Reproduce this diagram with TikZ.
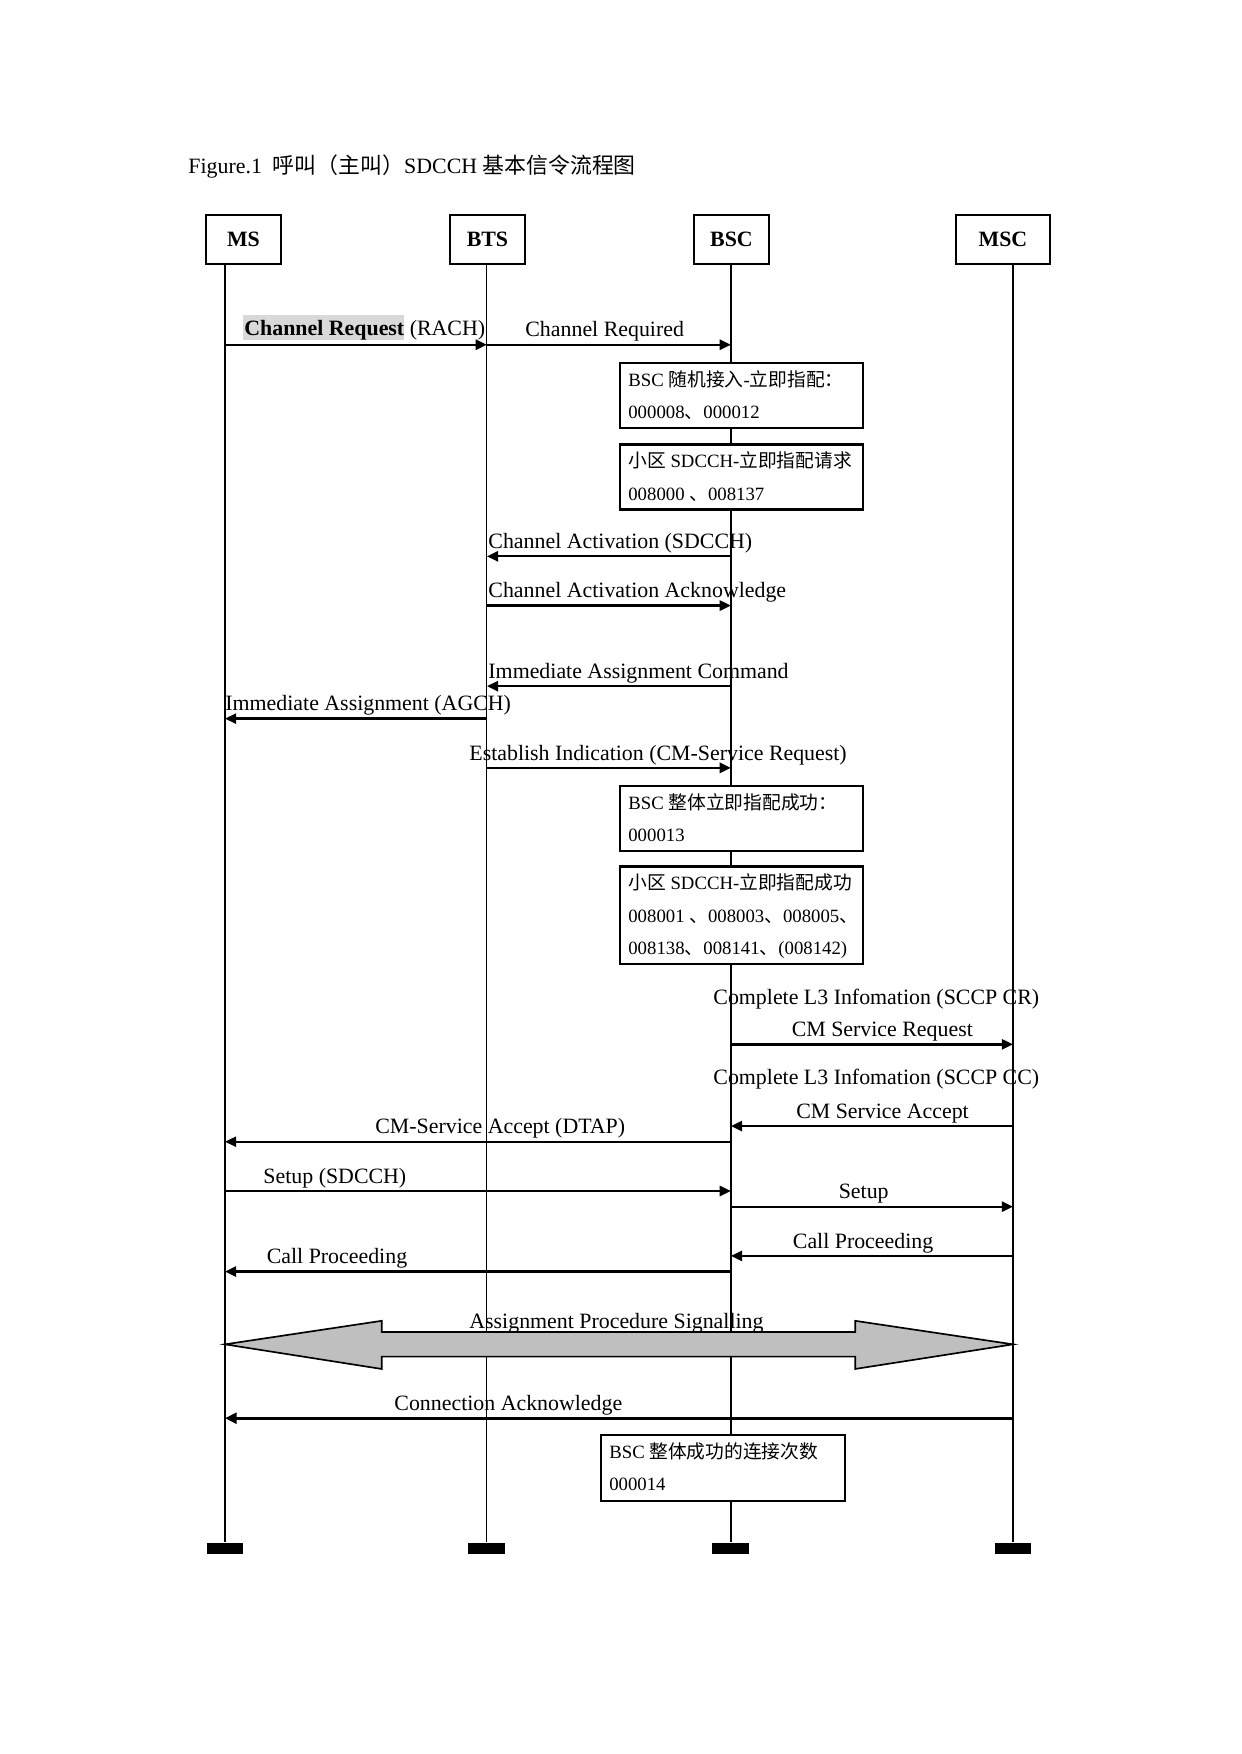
\documentclass[tikz,border=0pt]{standalone}
\usepackage{fontspec}
\setmainfont{Liberation Serif}
\newfontfamily\cjk{Noto Sans CJK SC}
\usetikzlibrary{arrows.meta,calc}
\newcommand{\zh}[1]{{\cjk #1}}
\begin{document}
\begin{tikzpicture}[x=0.5372pt,y=-0.5372pt,
  lbl/.style={font=\fontsize{10.5}{12}\selectfont, anchor=base west, inner sep=0pt},
  boxtxt/.style={font=\fontsize{9}{10}\selectfont, anchor=base west, inner sep=0pt},
  head/.style={draw, line width=1.2pt, minimum height=23.6pt, font=\fontsize{10.5}{12}\selectfont\bfseries, inner sep=0pt},
  info/.style={draw, line width=1.1pt, fill=white, anchor=north west, inner sep=0pt},
  msg/.style={line width=1.1pt, -{Triangle[length=5.4pt,width=4.9pt]}},
  bigmsg/.style={line width=1.6pt, -{Triangle[length=5.6pt,width=5.2pt]}},
  thickline/.style={line width=1.1pt},
  thinline/.style={line width=0.55pt},
  endbar/.style={fill=black, minimum width=17.7pt, minimum height=5.4pt, inner sep=0pt, anchor=north},
  hilite/.style={fill=black!15},
  bigarrow/.style={draw, line width=0.8pt, fill=black!25, line join=miter}]

\useasboundingbox (0,0) rectangle (1109,1567);

% title
\node[lbl] (title) at (168,155) {Figure.1\ \ \zh{呼叫（主叫）}SDCCH \zh{基本信令流程图}};

% headers
\node[head, minimum width=36pt] (MS) at (217.5,214) {MS};
\node[head, minimum width=36pt] (BTS) at (435.5,214) {BTS};
\node[head, minimum width=36pt] (BSC) at (653.5,214) {BSC};
\node[head, minimum width=45.1pt] (MSC) at (896,214) {MSC};

\coordinate (lMS) at (201,236);
\coordinate (lBTS) at (435,236);
\coordinate (lBSC) at (653,236);
\coordinate (lMSC) at (905,236);
\coordinate (bot) at (0,1378);

\node[endbar] (eMS) at (lMS |- bot) {};
\node[endbar] (eBTS) at (lBTS |- bot) {};
\node[endbar] (eBSC) at (lBSC |- bot) {};
\node[endbar] (eMSC) at (lMSC |- bot) {};

\draw[thickline] (lMS) -- (eMS.north);
\draw[thinline] (lBTS) -- (eBTS.north);
\draw[thickline] (lBSC) -- (eBSC.north);
\draw[thinline] (lMSC) -- (eMSC.north);

% info boxes
\node[info, minimum width=116.6pt, minimum height=31.2pt] (b1) at (553,323) {};
\node[info, minimum width=116.6pt, minimum height=31.2pt] (b2) at (553,396) {};
\node[info, minimum width=116.6pt, minimum height=31.2pt] (b3) at (553,701) {};
\node[info, minimum width=116.6pt, minimum height=46.7pt] (b4) at (553,773) {};
\node[info, minimum width=117.1pt, minimum height=31.7pt] (b5) at (536,1281) {};

\node[boxtxt] (b1a) at ($(b1.north west)+(8,22)$) {BSC \zh{随机接入}-\zh{立即指配：}};
\node[boxtxt] (b1b) at ($(b1.north west)+(8,51)$) {000008\zh{、}000012};
\node[boxtxt] (b2a) at ($(b2.north west)+(8,22)$) {\zh{小区} SDCCH-\zh{立即指配请求}};
\node[boxtxt] (b2b) at ($(b2.north west)+(8,51)$) {008000 \zh{、}008137};
\node[boxtxt] (b3a) at ($(b3.north west)+(8,22)$) {BSC \zh{整体立即指配成功：}};
\node[boxtxt] (b3b) at ($(b3.north west)+(8,51)$) {000013};
\node[boxtxt] (b4a) at ($(b4.north west)+(8,22)$) {\zh{小区} SDCCH-\zh{立即指配成功}};
\node[boxtxt] (b4b) at ($(b4.north west)+(8,51)$) {008001 \zh{、}008003\zh{、}008005\zh{、}};
\node[boxtxt] (b4c) at ($(b4.north west)+(8,80)$) {008138\zh{、}008141\zh{、}(008142)};
\node[boxtxt] (b5a) at ($(b5.north west)+(8,22)$) {BSC \zh{整体成功的连接次数}};
\node[boxtxt] (b5b) at ($(b5.north west)+(8,51)$) {000014};

% messages
\fill[hilite] (217,281) rectangle (361,304);
\node[lbl] (t1) at (218,300) {\textbf{Channel Request} (RACH)};
\draw[msg] (lMS |- 0,308) -- (lBTS |- 0,308);
\node[lbl] (t2) at (469,301) {Channel Required};
\draw[msg] (lBTS |- 0,308) -- (lBSC |- 0,308);

\node[lbl] (t3) at (436,490) {Channel Activation (SDCCH)};
\draw[msg] (lBSC |- 0,497) -- (lBTS |- 0,497);
\node[lbl] (t4) at (436,534) {Channel Activation Acknowledge};
\draw[msg] (lBTS |- 0,541) -- (lBSC |- 0,541);
\node[lbl] (t5) at (436,606) {Immediate Assignment Command};
\draw[msg] (lBSC |- 0,613) -- (lBTS |- 0,613);
\node[lbl] (t6) at (201,635) {Immediate Assignment (AGCH)};
\draw[msg] (lBTS |- 0,642) -- (lMS |- 0,642);
\node[lbl] (t7) at (419,679) {Establish Indication (CM-Service Request)};
\draw[msg] (lBTS |- 0,686) -- (lBSC |- 0,686);

\node[lbl] (t8) at (637,897) {Complete L3 Infomation (SCCP CR)};
\node[lbl] (t9) at (707,926) {CM Service Request};
\draw[msg] (lBSC |- 0,933) -- (lMSC |- 0,933);
\node[lbl] (t10) at (637,969) {Complete L3 Infomation (SCCP CC)};
\node[lbl] (t11) at (711,999) {CM Service Accept};
\draw[msg] (lMSC |- 0,1006) -- (lBSC |- 0,1006);
\node[lbl] (t12) at (335,1013) {CM-Service Accept (DTAP)};
\draw[msg] (lBSC |- 0,1020) -- (lMS |- 0,1020);
\node[lbl] (t13) at (235,1057) {Setup (SDCCH)};
\draw[msg] (lMS |- 0,1064) -- (lBSC |- 0,1064);
\node[lbl] (t14) at (749,1071) {Setup};
\draw[msg] (lBSC |- 0,1078) -- (lMSC |- 0,1078);
\node[lbl] (t15) at (708,1115) {Call Proceeding};
\draw[msg] (lMSC |- 0,1122) -- (lBSC |- 0,1122);
\node[lbl] (t16) at (238,1129) {Call Proceeding};
\draw[msg] (lBSC |- 0,1136) -- (lMS |- 0,1136);

% assignment procedure double arrow
\draw[bigarrow] (lMS |- 0,1201) -- (341,1180) -- (341,1190) -- (764,1190) -- (764,1180)
  -- (lMSC |- 0,1201) -- (764,1223) -- (764,1212) -- (341,1212) -- (341,1223) -- cycle;
\node[lbl] (t17) at (419,1187) {Assignment Procedure Signalling};

\node[lbl] (t18) at (352,1260) {Connection Acknowledge};
\draw[bigmsg] (lMSC |- 0,1267) -- (lMS |- 0,1267);
\end{tikzpicture}
\end{document}
